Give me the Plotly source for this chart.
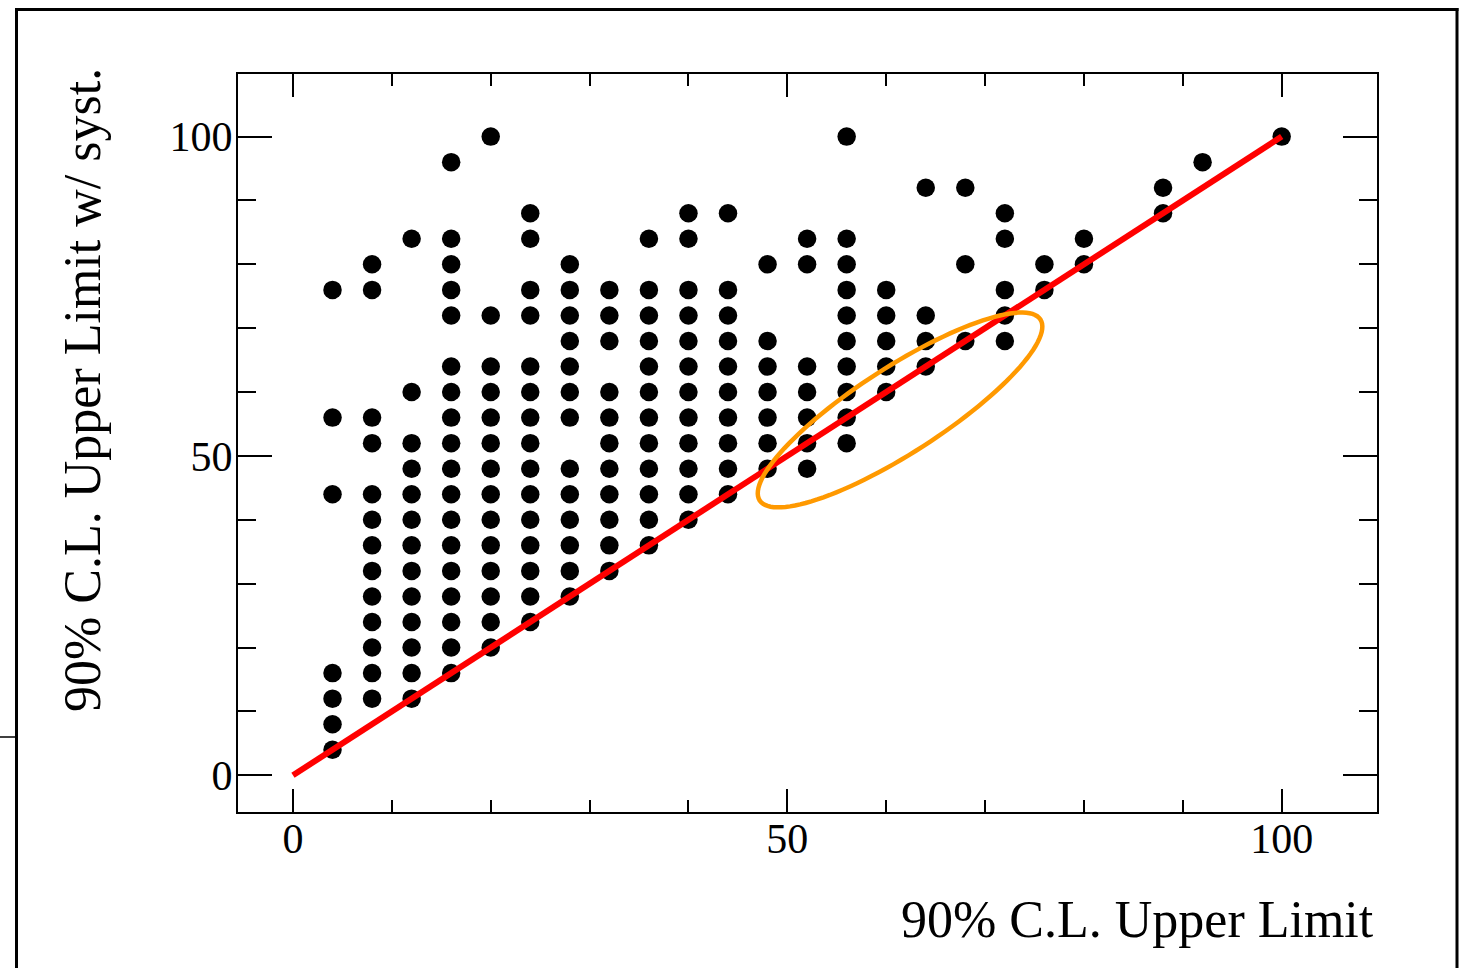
import math
import plotly.graph_objects as go

# 90% C.L. upper limit without systematics (x) and with systematics (y)
ul_no_syst = (
    [4] * 7 + [8] * 13 + [12] * 13 + [16] * 18 + [20] * 14 + [24] * 15
    + [28] * 13 + [32] * 11 + [36] * 12 + [40] * 12 + [44] * 10 + [48] * 7
    + [52] * 7 + [56] * 10 + [60] * 5 + [64] * 4 + [68] * 3 + [72] * 5
    + [76] * 2 + [80] * 2 + [88] * 2 + [92] * 1 + [100] * 1
)
ul_with_syst = (
    [76, 56, 44, 16, 12, 8, 4]
    + [80, 76, 56, 52, 44, 40, 36, 32, 28, 24, 20, 16, 12]
    + [84, 60, 52, 48, 44, 40, 36, 32, 28, 24, 20, 16, 12]
    + [96, 84, 80, 76, 72, 64, 60, 56, 52, 48, 44, 40, 36, 32, 28, 24, 20, 16]
    + [100, 72, 64, 60, 56, 52, 48, 44, 40, 36, 32, 28, 24, 20]
    + [88, 84, 76, 72, 64, 60, 56, 52, 48, 44, 40, 36, 32, 28, 24]
    + [80, 76, 72, 68, 64, 60, 56, 48, 44, 40, 36, 32, 28]
    + [76, 72, 68, 60, 56, 52, 48, 44, 40, 36, 32]
    + [84, 76, 72, 68, 64, 60, 56, 52, 48, 44, 40, 36]
    + [88, 84, 76, 72, 68, 64, 60, 56, 52, 48, 44, 40]
    + [88, 76, 72, 68, 64, 60, 56, 52, 48, 44]
    + [80, 68, 64, 60, 56, 52, 48]
    + [84, 80, 64, 60, 56, 52, 48]
    + [100, 84, 80, 76, 72, 68, 64, 60, 56, 52]
    + [76, 72, 68, 64, 60]
    + [92, 72, 68, 64]
    + [92, 80, 68]
    + [88, 84, 76, 72, 68]
    + [80, 76]
    + [84, 80]
    + [92, 88]
    + [96]
    + [100]
)

# y = x reference line
diag_x = [0, 100]
diag_y = [0, 100]

major_ticks = [0, 50, 100]
minor_ticks = [10, 20, 30, 40, 60, 70, 80, 90]

x_title = "90% C.L. Upper Limit"
y_title = "90% C.L. Upper Limit w/ syst."

# canvas geometry
W, H = 1468, 968
ML, MR, MT, MB = 238, 91, 74, 156
X_RANGE = [-5.56, 109.64]
Y_RANGE = [-5.75, 109.8]
PW, PH = W - ML - MR, H - MT - MB
SERIF = "Liberation Serif, Times New Roman, serif"

# highlighted region (ellipse), centre in data units, radii in pixels
ELL_CENTER = (61.4, 57.2)
ELL_RADII_PX = (167, 43)
ELL_TILT_DEG = 32.8


def px_to_paper_x(px):
    return (px - ML) / PW


def px_to_paper_y(py):
    return (H - MB - py) / PH


def ellipse_path():
    sx = PW / (X_RANGE[1] - X_RANGE[0])
    sy = PH / (Y_RANGE[1] - Y_RANGE[0])
    a, b = ELL_RADII_PX
    th = math.radians(ELL_TILT_DEG)
    pts = []
    for i in range(121):
        t = 2 * math.pi * i / 120
        dx = a * math.cos(t) * math.cos(th) - b * math.sin(t) * math.sin(th)
        dy = a * math.cos(t) * math.sin(th) + b * math.sin(t) * math.cos(th)
        pts.append((ELL_CENTER[0] + dx / sx, ELL_CENTER[1] + dy / sy))
    return "M " + " L ".join(f"{x:.4f},{y:.4f}" for x, y in pts) + " Z"


fig = go.Figure()
fig.add_trace(go.Scatter(
    x=ul_no_syst, y=ul_with_syst, mode="markers",
    marker=dict(size=18.5, color="black", line=dict(width=0)),
    hoverinfo="x+y", showlegend=False,
))
fig.add_trace(go.Scatter(
    x=diag_x, y=diag_y, mode="lines",
    line=dict(color="#ff0000", width=6),
    hoverinfo="skip", showlegend=False,
))

axis_common = dict(
    showgrid=False, zeroline=False,
    showline=True, linecolor="black", linewidth=2, mirror="allticks",
    ticks="inside", tickcolor="black", tickwidth=2,
    tickvals=major_ticks, ticktext=[str(v) for v in major_ticks],
    tickfont=dict(family=SERIF, size=42, color="black"),
)

fig.update_xaxes(
    **axis_common, range=X_RANGE, ticklen=23,
    minor=dict(tickvals=minor_ticks, ticks="inside", ticklen=12,
               tickwidth=2, tickcolor="black"),
    ticklabelstandoff=-11,
)
fig.update_yaxes(
    **axis_common, range=Y_RANGE, ticklen=34,
    minor=dict(tickvals=minor_ticks, ticks="inside", ticklen=18,
               tickwidth=2, tickcolor="black"),
    ticklabelstandoff=-5,
)

shapes = [
    dict(type="path", path=ellipse_path(), xref="x", yref="y",
         line=dict(color="#ff9900", width=4.5), layer="above"),
    # outer page border
    dict(type="line", xref="paper", yref="paper",
         x0=px_to_paper_x(16.5), x1=px_to_paper_x(16.5),
         y0=px_to_paper_y(8), y1=px_to_paper_y(975),
         line=dict(color="black", width=3)),
    dict(type="line", xref="paper", yref="paper",
         x0=px_to_paper_x(15), x1=px_to_paper_x(1458.5),
         y0=px_to_paper_y(9.5), y1=px_to_paper_y(9.5),
         line=dict(color="black", width=3)),
    dict(type="line", xref="paper", yref="paper",
         x0=px_to_paper_x(1457), x1=px_to_paper_x(1457),
         y0=px_to_paper_y(8), y1=px_to_paper_y(975),
         line=dict(color="black", width=3)),
    dict(type="line", xref="paper", yref="paper",
         x0=px_to_paper_x(-2), x1=px_to_paper_x(16),
         y0=px_to_paper_y(737), y1=px_to_paper_y(737),
         line=dict(color="black", width=1.5)),
]

annotations = [
    dict(text=x_title, xref="paper", yref="paper",
         x=px_to_paper_x(1376), y=px_to_paper_y(920),
         xanchor="right", yanchor="middle", showarrow=False,
         font=dict(family=SERIF, size=52, color="black")),
    dict(text=y_title, xref="paper", yref="paper", textangle=-90,
         x=px_to_paper_x(83), y=px_to_paper_y(66),
         xanchor="center", yanchor="top", showarrow=False,
         font=dict(family=SERIF, size=52, color="black")),
]

fig.update_layout(
    width=W, height=H,
    margin=dict(l=ML, r=MR, t=MT, b=MB, pad=0),
    paper_bgcolor="white", plot_bgcolor="white",
    shapes=shapes, annotations=annotations,
    showlegend=False,
)

fig.write_html("out.html")
